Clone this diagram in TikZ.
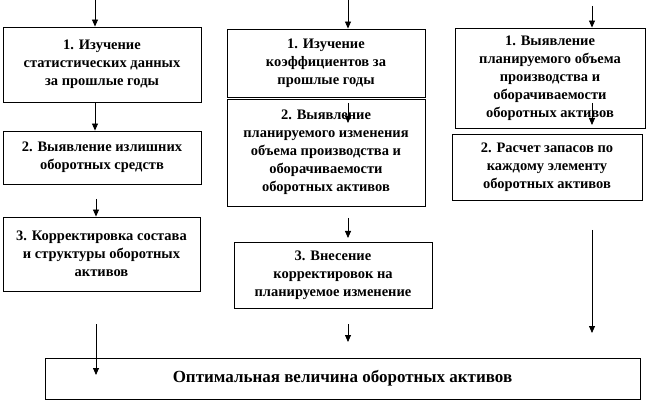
\documentclass[tikz,border=0pt]{standalone}
\usepackage{fontspec}
\setmainfont{Liberation Serif}
\usetikzlibrary{arrows.meta}
\begin{document}
\begin{tikzpicture}[x=1pt,y=-1pt,
  box/.style={draw=black, line width=0.9pt, inner sep=0pt, align=center,
    font=\fontsize{14.5}{18}\selectfont\bfseries, fill=white},
  arr/.style={draw=black, line width=0.8pt, -{Triangle[width=6pt,length=7pt]}}]
\useasboundingbox (0,0) rectangle (650,403);
% left column
\node[box, minimum width=198pt, minimum height=75pt] (L1) at (102,64.5)
  {1. Изучение\\статистических данных\\за прошлые годы};
\node[box, minimum width=198pt, minimum height=53pt] (L2) at (102,157.5)
  {2. Выявление излишних\\оборотных средств};
\node[box, minimum width=197pt, minimum height=74pt] (L3) at (101.5,254)
  {3. Корректировка состава\\и структуры  оборотных\\активов};
% middle column
\node[box, minimum width=198pt, minimum height=68pt] (M1) at (326,63)
  {1. Изучение\\коэффициентов  за\\прошлые годы};
\node[box, minimum width=198pt, minimum height=107pt] (M2) at (326,152.5)
  {2. Выявление\\планируемого изменения\\объема производства и\\оборачиваемости\\оборотных активов};
\node[box, minimum width=198pt, minimum height=66pt] (M3) at (333,275)
  {3. Внесение\\корректировок на\\планируемое изменение};
% right column
\node[box, minimum width=190pt, minimum height=100pt] (R1) at (550,78)
  {1. Выявление\\планируемого объема\\производства и\\оборачиваемости\\оборотных активов};
\node[box, minimum width=190pt, minimum height=66pt] (R2) at (547,167)
  {2. Расчет запасов по\\каждому  элементу\\оборотных активов};
% bottom
\node[box, minimum width=595pt, minimum height=41pt,
  font=\fontsize{17}{18}\selectfont\bfseries] (B) at (342.5,378.5)
  {Оптимальная величина оборотных активов};
% arrow coordinates
\coordinate (la) at (95,0);
\coordinate (lb) at (95,103);
\coordinate (lc) at (96,199);
\coordinate (ld) at (96,324);
\coordinate (ldd) at (96,375);
\coordinate (ma) at (348,0);
\coordinate (mb) at (348,103);
\coordinate (mbb) at (348,123);
\coordinate (mc) at (348,218);
\coordinate (mcc) at (348,238);
\coordinate (md) at (348,324);
\coordinate (mdd) at (348,342);
\coordinate (ra) at (592,6);
\coordinate (rb) at (592,103);
\coordinate (rbb) at (592,125);
\coordinate (rc) at (592,230);
\coordinate (rcc) at (592,333);
% arrows
\draw[arr] (la) -- (la |- L1.north);
\draw[arr] (lb) -- (lb |- L2.north);
\draw[arr] (lc) -- (lc |- L3.north);
\draw[arr] (ld) -- (ldd);
\draw[arr] (ma) -- (ma |- M1.north);
\draw[arr] (mb) -- (mbb);
\draw[arr] (mc) -- (mcc);
\draw[arr] (md) -- (mdd);
\draw[arr] (ra) -- (ra |- R1.north);
\draw[arr] (rb) -- (rbb);
\draw[arr] (rc) -- (rcc);
\end{tikzpicture}
\end{document}
